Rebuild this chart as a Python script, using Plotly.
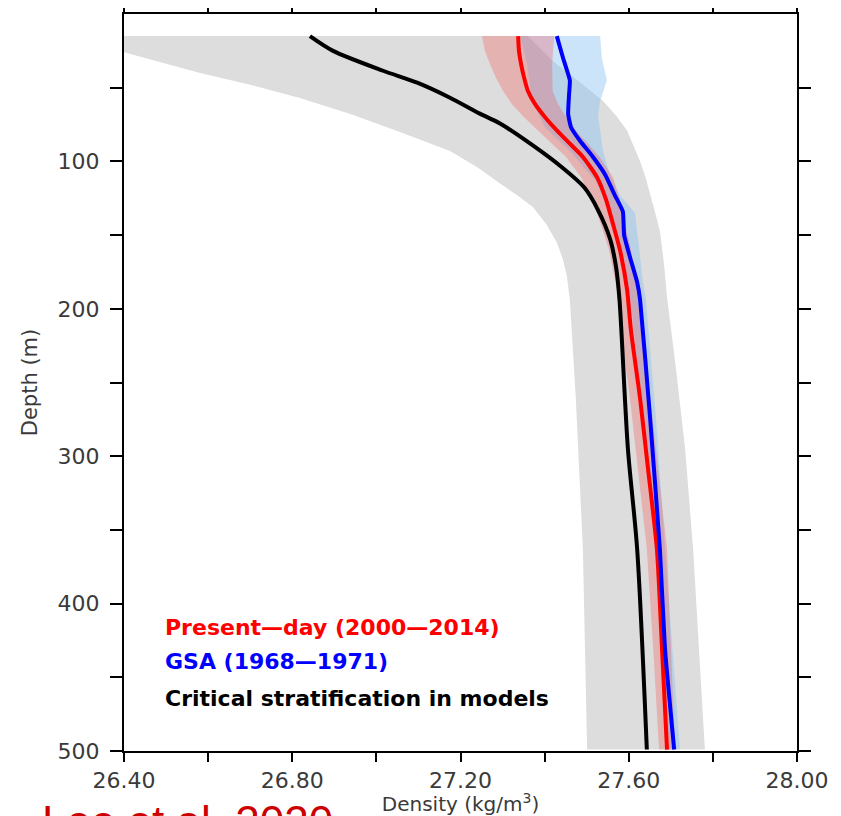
import plotly.graph_objects as go

# ---------------- data ----------------
# Critical stratification in models (black) + spread (grey)
black_depth = [15, 25, 38.5, 46.6, 56.8, 67.6, 74.3, 89.2, 104, 117.6, 133, 153, 172, 194, 295, 363, 499]
black_rho = [26.842, 26.897, 27.016, 27.097, 27.175, 27.246, 27.294, 27.372, 27.441, 27.494,
             27.527, 27.556, 27.570, 27.578, 27.598, 27.620, 27.643]

grey_lo_depth = [15, 26, 33, 40, 48, 57, 68, 80, 93, 104, 115, 123, 131, 143, 155, 166, 178, 194, 260, 363, 499]
grey_lo = [26.26, 26.40, 26.49, 26.581, 26.70, 26.818, 26.94, 27.056, 27.175, 27.24, 27.294, 27.335,
           27.372, 27.405, 27.429, 27.443, 27.453, 27.460, 27.474, 27.491, 27.501]
grey_hi_depth = [15, 32, 45, 59, 69, 79, 90, 100, 111, 122, 135, 147, 170, 192, 240, 295, 363, 499]
grey_hi = [27.36, 27.420, 27.478, 27.539, 27.570, 27.596, 27.613, 27.627, 27.640, 27.651, 27.663,
           27.674, 27.684, 27.691, 27.712, 27.734, 27.753, 27.781]

# Present-day (2000-2014), red
red_depth = [15, 25, 34, 43, 52, 61, 70, 79, 88, 97, 111, 126, 143, 160, 187, 214, 261, 309, 363, 430, 499]
red_rho = [27.337, 27.339, 27.344, 27.351, 27.360, 27.377, 27.401, 27.429, 27.460, 27.491, 27.525,
           27.546, 27.563, 27.579, 27.596, 27.605, 27.627, 27.646, 27.667, 27.679, 27.691]
red_lo = [27.251, 27.258, 27.270, 27.284, 27.301, 27.322, 27.351, 27.384, 27.417, 27.451, 27.487,
          27.513, 27.534, 27.553, 27.572, 27.581, 27.603, 27.622, 27.643, 27.658, 27.672]
red_hi = [27.423, 27.420, 27.418, 27.418, 27.419, 27.432, 27.451, 27.474, 27.503, 27.531, 27.563,
          27.579, 27.592, 27.605, 27.620, 27.629, 27.651, 27.670, 27.691, 27.700, 27.710]

# GSA (1968-1971), blue
blue_depth = [15, 30, 45, 55, 68, 77, 86, 97, 109, 123, 134, 150, 165, 182, 194, 275, 363, 430, 499]
blue_rho = [27.429, 27.444, 27.460, 27.458, 27.456, 27.463, 27.484, 27.515, 27.544, 27.567, 27.586,
            27.589, 27.603, 27.620, 27.627, 27.651, 27.674, 27.686, 27.708]
blue_lo_depth = [15, 34, 59, 77, 93, 113, 133, 153, 174, 194, 275, 363, 499]
blue_lo = [27.342, 27.358, 27.370, 27.401, 27.460, 27.520, 27.555, 27.572, 27.590, 27.605, 27.632, 27.662, 27.693]
blue_hi_depth = [15, 30, 45, 59, 69, 79, 93, 109, 123, 135, 165, 182, 194, 275, 363, 499]
blue_hi = [27.532, 27.536, 27.548, 27.532, 27.527, 27.532, 27.539, 27.555, 27.579, 27.615, 27.627,
           27.634, 27.641, 27.665, 27.686, 27.722]

x_ticks = [26.4, 26.6, 26.8, 27.0, 27.2, 27.4, 27.6, 27.8, 28.0]
x_labels = ["26.40", " ", "26.80", " ", "27.20", " ", "27.60", " ", "28.00"]
y_ticks = [50, 100, 150, 200, 250, 300, 350, 400, 450, 500]
y_labels = [" ", "100", " ", "200", " ", "300", " ", "400", " ", "500"]

legend_items = [("Present\u2014day (2000\u20142014)", "#ff0000"),
                ("GSA (1968\u20141971)", "#0000ff"),
                ("Critical stratification in models", "#000000")]

# ---------------- figure ----------------
fig = go.Figure()


def band(lo, lo_d, hi, hi_d, color):
    fig.add_trace(go.Scatter(
        x=list(lo) + list(hi)[::-1],
        y=list(lo_d) + list(hi_d)[::-1],
        fill="toself", fillcolor=color, mode="lines",
        line=dict(width=0), hoverinfo="skip", showlegend=False))


band(grey_lo, grey_lo_depth, grey_hi, grey_hi_depth, "rgb(221,221,221)")
band(blue_lo, blue_lo_depth, blue_hi, blue_hi_depth, "rgba(144,196,244,0.46)")
band(red_lo, red_depth, red_hi, red_depth, "rgba(255,40,40,0.24)")

fig.add_trace(go.Scatter(x=black_rho, y=black_depth, mode="lines",
                         line=dict(color="black", width=4, shape="spline", smoothing=0.8),
                         showlegend=False))
fig.add_trace(go.Scatter(x=red_rho, y=red_depth, mode="lines",
                         line=dict(color="#ff0000", width=4, shape="spline", smoothing=0.6),
                         showlegend=False))
fig.add_trace(go.Scatter(x=blue_rho, y=blue_depth, mode="lines",
                         line=dict(color="#0000ff", width=4, shape="spline", smoothing=0.4),
                         showlegend=False))

# legend as coloured text
leg_y = [0.832, 0.879, 0.929]  # fraction from top of plot area
for (txt, col), yy in zip(legend_items, leg_y):
    fig.add_annotation(text=txt, xref="paper", yref="paper", x=0.058, y=1 - yy,
                       xanchor="left", yanchor="middle", showarrow=False,
                       font=dict(family="DejaVu Sans", size=22, color=col, weight="bold"))

# partially visible citation at bottom
fig.add_annotation(text="Lee et al. 2020", xref="paper", yref="paper", x=-0.125, y=-0.060,
                   xanchor="left", yanchor="top", showarrow=False,
                   font=dict(family="Liberation Sans", size=44, color="#cc0000"))

axis_common = dict(showgrid=False, zeroline=False, showline=True, linecolor="black",
                   linewidth=2, mirror="ticks", ticks="outside", tickcolor="black",
                   tickwidth=2, automargin=False,
                   tickfont=dict(family="DejaVu Sans", size=22, color="#3a3a3a"))

fig.update_xaxes(range=[26.4, 28.0], tickvals=x_ticks, ticktext=x_labels, ticklen=9,
                 title=dict(text="Density (kg/m<sup>3</sup>)", standoff=6,
                            font=dict(family="DejaVu Sans", size=20, color="#3a3a3a")),
                 **axis_common)
fig.update_yaxes(range=[500, 0], tickvals=y_ticks, ticktext=y_labels, ticklen=12,
                 ticklabelstandoff=6,
                 title=dict(text="Depth (m)", standoff=14,
                            font=dict(family="DejaVu Sans", size=21, color="#3a3a3a")),
                 **axis_common)

fig.update_layout(width=833, height=808, autosize=False,
                  margin=dict(l=116, r=44, t=6, b=65),
                  plot_bgcolor="white", paper_bgcolor="white")

fig.write_html("out.html")
